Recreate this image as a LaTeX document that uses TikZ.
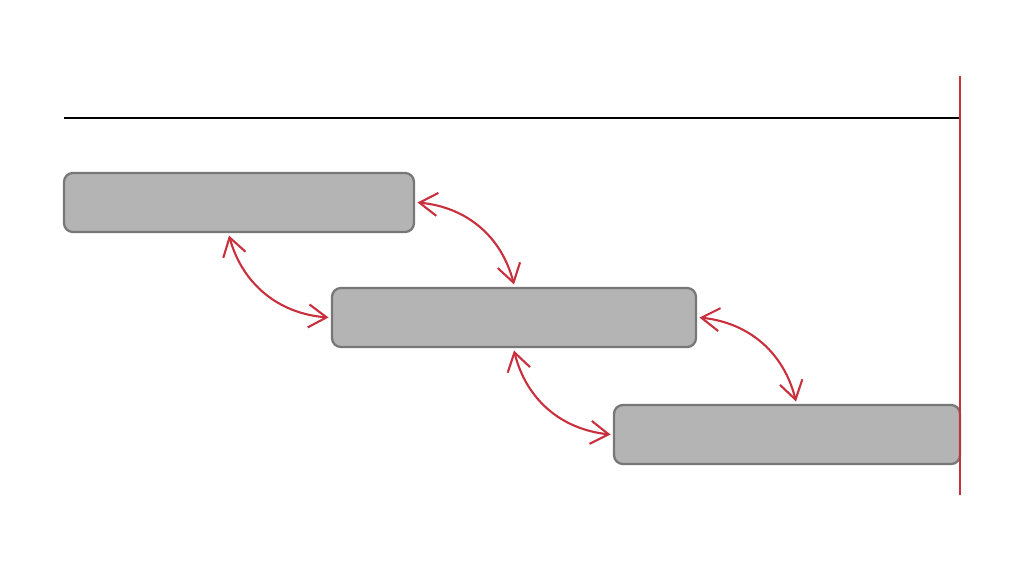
\documentclass[tikz,border=0pt]{standalone}
\usepackage{xcolor}
\usetikzlibrary{arrows.meta, positioning}
\definecolor{barred}{HTML}{C9303D}
\definecolor{barfill}{HTML}{B4B4B4}
\definecolor{baredge}{HTML}{777777}

\begin{document}
\begin{tikzpicture}[x=0.02cm, y=-0.02cm,
  bar/.style={draw=baredge, fill=barfill, line width=1.3pt, rounded corners=5pt, minimum height=1.18cm, inner sep=0pt, outer sep=2pt},
  link/.style={barred, line width=1.2pt, {Straight Barb[length=3.6mm,width=4.6mm]}-{Straight Barb[length=3.6mm,width=4.6mm]}}]
\useasboundingbox (0,0) rectangle (1024,572);
\draw[black, line width=1.1pt] (64,118) -- (960,118);
\node[bar, minimum width=7cm] (task1) at (239,202.5) {};
\node[bar, minimum width=7.28cm] (task2) at (514,317.5) {};
\node[bar, minimum width=6.92cm] (task3) at (787,434.5) {};
\draw[barred, line width=1.1pt] (960,76) -- (960,495);
\draw[link] (task1.east) to[bend left=35] (task2.north);
\draw[link] ([xshift=-0.2cm]task1.south) to[bend right=35] (task2.west);
\draw[link] (task2.east) to[bend left=35] ([xshift=0.18cm]task3.north);
\draw[link] (task2.south) to[bend right=35] (task3.west);
\end{tikzpicture}
\end{document}
